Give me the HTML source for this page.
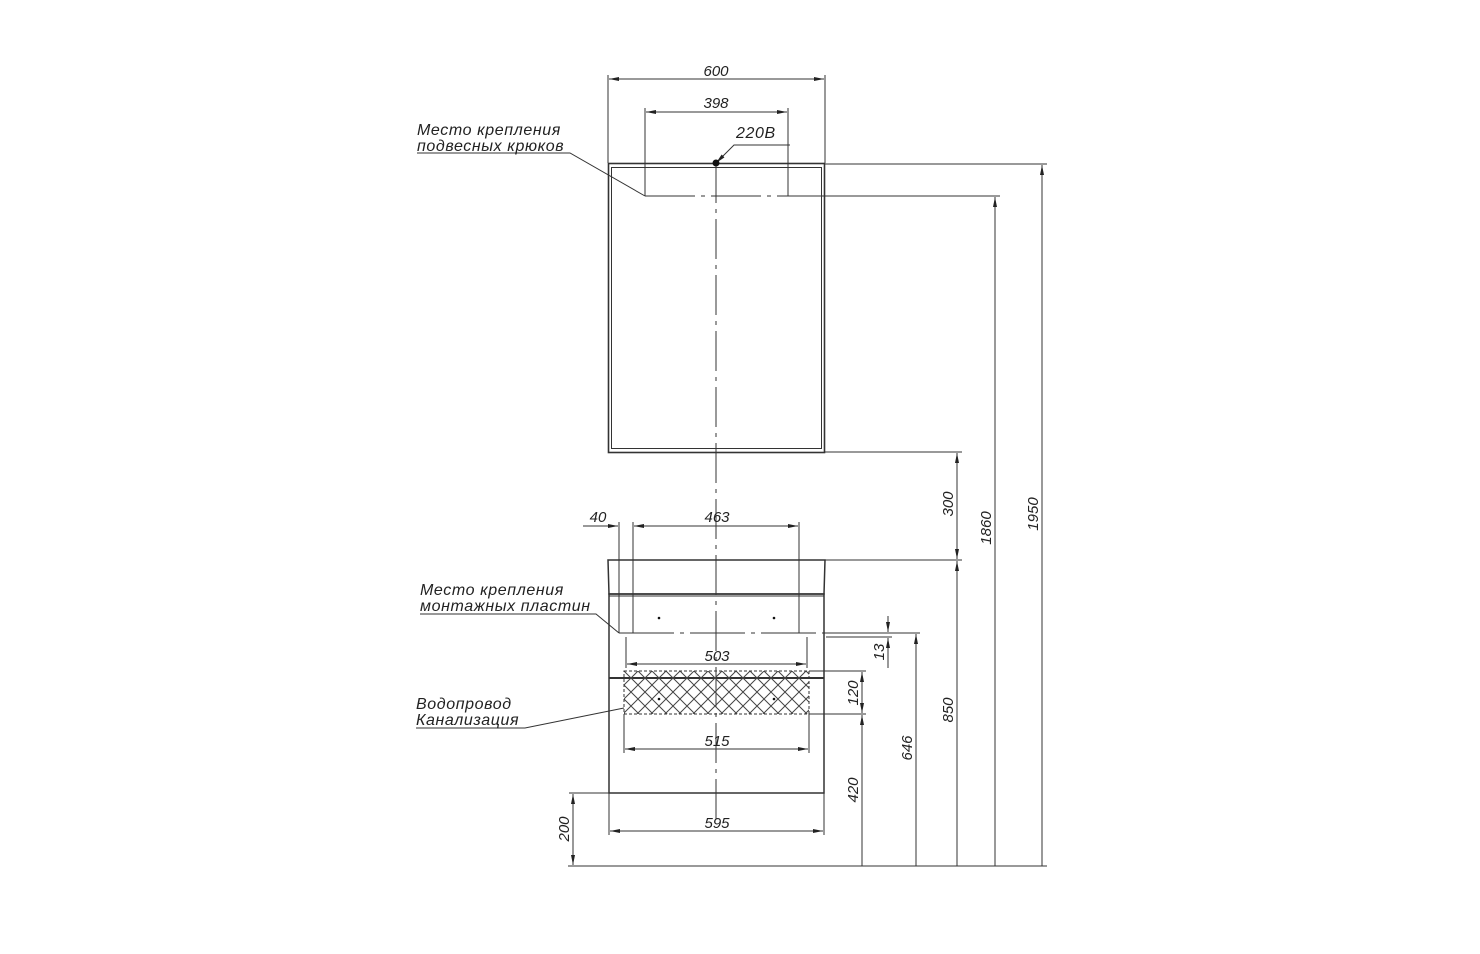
<!DOCTYPE html>
<html><head><meta charset="utf-8"><style>
html,body{margin:0;padding:0;background:#fff;}
svg{display:block}
text{font-family:"Liberation Sans",sans-serif;font-style:italic;fill:#222;}
.l{font-size:16px;letter-spacing:0.6px}
</style></head><body>
<svg width="1480" height="954" viewBox="0 0 1480 954" xmlns="http://www.w3.org/2000/svg">
<defs>
<marker id="a" viewBox="0 0 10 4" refX="10" refY="2" markerWidth="10" markerHeight="4" orient="auto-start-reverse" markerUnits="userSpaceOnUse"><path d="M0,0 L10,2 L0,4 z" fill="#222"/></marker>
<pattern id="h" width="14" height="14" patternUnits="userSpaceOnUse" x="624" y="671"><path d="M0,0 L14,14 M14,0 L0,14" stroke="#444" stroke-width="1"/></pattern>
</defs>
<g stroke="#333" fill="none" stroke-width="1">
<rect x="608.5" y="163.5" width="216" height="289" stroke-width="1.6"/>
<rect x="611.5" y="167.5" width="210" height="281" stroke-width="1"/>
<line x1="716" y1="163" x2="716" y2="820" stroke-dasharray="40,6,4,6"/>
<line x1="645" y1="196" x2="824" y2="196" stroke-dasharray="50,6,4,6"/>
<line x1="824" y1="196" x2="1000" y2="196"/>
<line x1="608" y1="75" x2="608" y2="163"/><line x1="825" y1="75" x2="825" y2="163"/>
<line x1="609" y1="79" x2="824" y2="79" marker-start="url(#a)" marker-end="url(#a)"/>
<line x1="645" y1="108" x2="645" y2="196"/><line x1="788" y1="108" x2="788" y2="196"/>
<line x1="646" y1="112" x2="787" y2="112" marker-start="url(#a)" marker-end="url(#a)"/>
<polyline points="417,153 570,153 645,196"/>
<polyline points="716,163 734,145 790,145" marker-start="url(#a)"/>
<line x1="825" y1="164" x2="1047" y2="164"/>
<line x1="1042" y1="165" x2="1042" y2="866" marker-start="url(#a)"/>
<line x1="995" y1="197" x2="995" y2="866" marker-start="url(#a)"/>
<line x1="825" y1="452" x2="962" y2="452"/>
<line x1="957" y1="453" x2="957" y2="559" marker-start="url(#a)" marker-end="url(#a)"/>
<line x1="825" y1="560" x2="962" y2="560"/>
<line x1="957" y1="561" x2="957" y2="866" marker-start="url(#a)"/>
<path d="M608,560 L825,560 L824,594 L609,594 Z" stroke-width="1.5"/>
<line x1="609" y1="596" x2="824" y2="596"/>
<rect x="609" y="594" width="215" height="199" stroke-width="1.5"/>
<line x1="609" y1="678" x2="824" y2="678" stroke-width="2"/>
<line x1="619" y1="522" x2="619" y2="633"/><line x1="633" y1="522" x2="633" y2="633"/><line x1="799" y1="522" x2="799" y2="633"/>
<line x1="583" y1="526" x2="618" y2="526" marker-end="url(#a)"/>
<line x1="634" y1="526" x2="798" y2="526" marker-start="url(#a)" marker-end="url(#a)"/>
<line x1="619" y1="633" x2="824" y2="633" stroke-dasharray="55,6,4,6"/>
<line x1="824" y1="633" x2="920" y2="633"/>
<polyline points="420,614 596,614 619,633"/>
<line x1="826" y1="637" x2="892" y2="637"/>
<line x1="888" y1="616" x2="888" y2="632" marker-end="url(#a)"/>
<line x1="888" y1="668" x2="888" y2="638" marker-end="url(#a)"/>
<line x1="916" y1="634" x2="916" y2="866" marker-start="url(#a)"/>
<line x1="626" y1="637" x2="626" y2="668"/><line x1="807" y1="637" x2="807" y2="668"/>
<line x1="627" y1="664" x2="806" y2="664" marker-start="url(#a)" marker-end="url(#a)"/>
<rect x="624" y="671" width="185" height="43" fill="url(#h)" stroke-dasharray="3,2"/>
<line x1="809" y1="671" x2="866" y2="671"/><line x1="809" y1="714" x2="866" y2="714"/>
<line x1="862" y1="672" x2="862" y2="713" marker-start="url(#a)" marker-end="url(#a)"/>
<line x1="862" y1="715" x2="862" y2="866" marker-start="url(#a)"/>
<polyline points="416,728 525,728 624,708"/>
<line x1="624" y1="714" x2="624" y2="753"/><line x1="809" y1="714" x2="809" y2="753"/>
<line x1="625" y1="749" x2="808" y2="749" marker-start="url(#a)" marker-end="url(#a)"/>
<line x1="609" y1="793" x2="609" y2="835"/><line x1="824" y1="793" x2="824" y2="835"/>
<line x1="610" y1="831" x2="823" y2="831" marker-start="url(#a)" marker-end="url(#a)"/>
<line x1="569" y1="793" x2="609" y2="793"/>
<line x1="573" y1="794" x2="573" y2="865" marker-start="url(#a)" marker-end="url(#a)"/>
<line x1="568" y1="866" x2="1047" y2="866"/>
</g>
<circle cx="716" cy="163" r="3.5" fill="#111"/>
<circle cx="659" cy="618" r="1.3" fill="#111"/><circle cx="774" cy="618" r="1.3" fill="#111"/>
<circle cx="659" cy="699" r="1.3" fill="#111"/><circle cx="774" cy="699" r="1.3" fill="#111"/>
<g font-size="15">
<text x="716" y="76" text-anchor="middle">600</text>
<text x="716" y="108" text-anchor="middle">398</text>
<text x="736" y="138" class="l">220В</text>
<text x="417" y="135" class="l">Место крепления</text>
<text x="417" y="151" class="l">подвесных крюков</text>
<text x="598" y="522" text-anchor="middle">40</text>
<text x="717" y="522" text-anchor="middle">463</text>
<text x="420" y="595" class="l">Место крепления</text>
<text x="420" y="611" class="l">монтажных пластин</text>
<text x="717" y="661" text-anchor="middle">503</text>
<text x="416" y="709" class="l">Водопровод</text>
<text x="416" y="725" class="l">Канализация</text>
<text x="717" y="746" text-anchor="middle">515</text>
<text x="717" y="828" text-anchor="middle">595</text>
<text transform="translate(569,829) rotate(-90)" text-anchor="middle">200</text>
<text transform="translate(858,693) rotate(-90)" text-anchor="middle">120</text>
<text transform="translate(858,790) rotate(-90)" text-anchor="middle">420</text>
<text transform="translate(884,652) rotate(-90)" text-anchor="middle">13</text>
<text transform="translate(912,748) rotate(-90)" text-anchor="middle">646</text>
<text transform="translate(953,504) rotate(-90)" text-anchor="middle">300</text>
<text transform="translate(953,710) rotate(-90)" text-anchor="middle">850</text>
<text transform="translate(991,528) rotate(-90)" text-anchor="middle">1860</text>
<text transform="translate(1038,514) rotate(-90)" text-anchor="middle">1950</text>
</g>
</svg>
</body></html>
